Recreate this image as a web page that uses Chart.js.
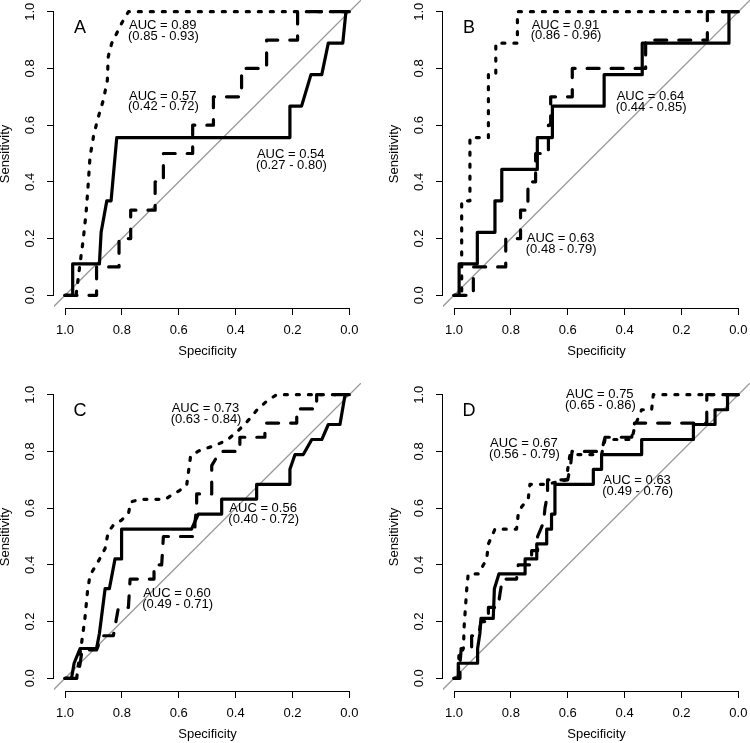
<!DOCTYPE html>
<html>
<head>
<meta charset="utf-8">
<script src="https://cdn.jsdelivr.net/npm/chart.js"></script>
<style>
html, body { margin: 0; padding: 0; background: #ffffff; width: 750px; height: 743px; overflow: hidden; }
.panel { position: absolute; width: 389px; height: 383px; }
canvas { display: block; }
</style>
</head>
<body>
<div class="panel" style="left:0px;top:0px"><canvas id="cA" width="389" height="383"></canvas></div>
<div class="panel" style="left:389px;top:0px"><canvas id="cB" width="389" height="383"></canvas></div>
<div class="panel" style="left:0px;top:383px"><canvas id="cC" width="389" height="383"></canvas></div>
<div class="panel" style="left:389px;top:383px"><canvas id="cD" width="389" height="383"></canvas></div>
<script>
// ---------- tick values & labels ----------
const tickValues = [0, 0.2, 0.4, 0.6, 0.8, 1.0];
const tickLabels = ['0.0', '0.2', '0.4', '0.6', '0.8', '1.0'];
// reference (chance) line: sensitivity = 1 - specificity
const refSpec = [1.1, -0.1];
const refSens = [-0.1, 1.1];

// ---------- Panel A ----------
const specA_solid = [1.0, 0.973, 0.973, 0.879, 0.873, 0.853, 0.838, 0.818, 0.209, 0.209, 0.168, 0.135, 0.097, 0.074, 0.023, 0.012, 0.0];
const sensA_solid = [0, 0, 0.111, 0.111, 0.222, 0.333, 0.333, 0.556, 0.556, 0.667, 0.667, 0.778, 0.778, 0.889, 0.889, 1.0, 1.0];
const specA_dashed = [1.0, 0.889, 0.889, 0.810, 0.810, 0.769, 0.769, 0.683, 0.683, 0.654, 0.654, 0.551, 0.551, 0.478, 0.478, 0.379, 0.379, 0.291, 0.291, 0.182, 0.182, 0.0];
const sensA_dashed = [0, 0, 0.1, 0.1, 0.2, 0.2, 0.3, 0.3, 0.4, 0.4, 0.5, 0.5, 0.6, 0.6, 0.7, 0.7, 0.8, 0.8, 0.9, 0.9, 1.0, 1.0];
const specA_dotted = [1.0, 0.961, 0.947, 0.936, 0.926, 0.919, 0.912, 0.900, 0.886, 0.865, 0.851, 0.848, 0.836, 0.818, 0.801, 0.777, 0.0];
const sensA_dotted = [0, 0, 0.113, 0.195, 0.289, 0.383, 0.489, 0.559, 0.618, 0.689, 0.759, 0.841, 0.888, 0.924, 0.959, 1.0, 1.0];
const aucA = ['0.89', '0.57', '0.54'];
const ciA = ['(0.85 - 0.93)', '(0.42 - 0.72)', '(0.27 - 0.80)'];

// ---------- Panel B ----------
const specB_solid = [1.0, 0.982, 0.982, 0.918, 0.918, 0.856, 0.856, 0.832, 0.832, 0.707, 0.707, 0.654, 0.654, 0.472, 0.472, 0.338, 0.338, 0.033, 0.033, 0.0];
const sensB_solid = [0, 0, 0.111, 0.111, 0.222, 0.222, 0.333, 0.333, 0.444, 0.444, 0.556, 0.556, 0.667, 0.667, 0.778, 0.778, 0.889, 0.889, 1.0, 1.0];
const specB_dashed = [1.0, 0.932, 0.932, 0.818, 0.818, 0.766, 0.766, 0.740, 0.740, 0.713, 0.713, 0.668, 0.668, 0.660, 0.660, 0.584, 0.584, 0.326, 0.326, 0.109, 0.109, 0.0];
const sensB_dashed = [0, 0, 0.1, 0.1, 0.2, 0.2, 0.3, 0.3, 0.4, 0.4, 0.5, 0.5, 0.6, 0.6, 0.7, 0.7, 0.8, 0.8, 0.9, 0.9, 1.0, 1.0];
const specB_dotted = [1.0, 0.973, 0.973, 0.944, 0.944, 0.879, 0.879, 0.853, 0.853, 0.777, 0.777, 0.0];
const sensB_dotted = [0, 0, 0.333, 0.333, 0.556, 0.556, 0.778, 0.778, 0.889, 0.889, 1.0, 1.0];
const aucB = ['0.91', '0.64', '0.63'];
const ciB = ['(0.86 - 0.96)', '(0.44 - 0.85)', '(0.48 - 0.79)'];

// ---------- Panel C ----------
const specC_solid = [1.0, 0.977, 0.968, 0.947, 0.889, 0.879, 0.859, 0.844, 0.824, 0.801, 0.801, 0.555, 0.531, 0.449, 0.449, 0.326, 0.326, 0.209, 0.209, 0.191, 0.162, 0.132, 0.097, 0.074, 0.033, 0.015, 0.0];
const sensC_solid = [0, 0, 0.053, 0.105, 0.105, 0.158, 0.316, 0.316, 0.421, 0.421, 0.526, 0.526, 0.579, 0.579, 0.632, 0.632, 0.684, 0.684, 0.737, 0.789, 0.789, 0.842, 0.842, 0.895, 0.895, 1.0, 1.0];
const specC_dashed = [1.0, 0.959, 0.947, 0.940, 0.889, 0.870, 0.830, 0.812, 0.777, 0.771, 0.687, 0.687, 0.660, 0.654, 0.566, 0.543, 0.543, 0.537, 0.537, 0.484, 0.484, 0.455, 0.385, 0.385, 0.297, 0.297, 0.185, 0.185, 0.115, 0.115, 0.0];
const sensC_dashed = [0, 0, 0.05, 0.1, 0.1, 0.15, 0.15, 0.25, 0.25, 0.35, 0.35, 0.4, 0.4, 0.5, 0.5, 0.5, 0.55, 0.6, 0.65, 0.65, 0.75, 0.8, 0.8, 0.85, 0.85, 0.9, 0.9, 0.95, 0.95, 1.0, 1.0];
const specC_dotted = [1.0, 0.959, 0.953, 0.941, 0.930, 0.921, 0.912, 0.894, 0.877, 0.859, 0.848, 0.830, 0.801, 0.777, 0.768, 0.736, 0.648, 0.625, 0.596, 0.572, 0.558, 0.525, 0.478, 0.431, 0.390, 0.355, 0.326, 0.291, 0.256, 0.0];
const sensC_dotted = [0, 0, 0.047, 0.129, 0.211, 0.305, 0.364, 0.393, 0.423, 0.458, 0.516, 0.540, 0.558, 0.581, 0.622, 0.631, 0.631, 0.646, 0.663, 0.681, 0.786, 0.804, 0.819, 0.839, 0.874, 0.910, 0.945, 0.977, 1.0, 1.0];
const aucC = ['0.73', '0.56', '0.60'];
const ciC = ['(0.63 - 0.84)', '(0.40 - 0.72)', '(0.49 - 0.71)'];

// ---------- Panel D ----------
const specD_solid = [1.0, 0.985, 0.985, 0.917, 0.917, 0.909, 0.905, 0.862, 0.858, 0.842, 0.750, 0.750, 0.709, 0.709, 0.674, 0.674, 0.657, 0.657, 0.645, 0.645, 0.510, 0.510, 0.481, 0.481, 0.340, 0.340, 0.158, 0.158, 0.082, 0.082, 0.038, 0.038, 0.0];
const sensD_solid = [0, 0, 0.053, 0.053, 0.105, 0.158, 0.211, 0.211, 0.316, 0.368, 0.368, 0.421, 0.421, 0.474, 0.474, 0.526, 0.526, 0.579, 0.579, 0.684, 0.684, 0.737, 0.737, 0.789, 0.789, 0.842, 0.842, 0.895, 0.895, 0.947, 0.947, 1.0, 1.0];
const specD_dashed = [1.0, 0.979, 0.979, 0.975, 0.938, 0.938, 0.914, 0.905, 0.879, 0.879, 0.845, 0.838, 0.830, 0.780, 0.774, 0.727, 0.727, 0.706, 0.706, 0.685, 0.680, 0.671, 0.671, 0.600, 0.590, 0.585, 0.481, 0.469, 0.375, 0.365, 0.111, 0.111, 0.0];
const sensD_dashed = [0, 0, 0.05, 0.1, 0.1, 0.15, 0.15, 0.2, 0.2, 0.25, 0.25, 0.3, 0.35, 0.35, 0.4, 0.4, 0.45, 0.45, 0.5, 0.55, 0.6, 0.65, 0.7, 0.7, 0.75, 0.8, 0.8, 0.85, 0.85, 0.9, 0.9, 1.0, 1.0];
const specD_dotted = [1.0, 0.985, 0.982, 0.967, 0.964, 0.955, 0.950, 0.914, 0.885, 0.879, 0.856, 0.780, 0.774, 0.762, 0.739, 0.733, 0.674, 0.604, 0.600, 0.592, 0.481, 0.469, 0.375, 0.363, 0.340, 0.305, 0.299, 0.0];
const sensD_dotted = [0, 0, 0.105, 0.105, 0.188, 0.317, 0.368, 0.368, 0.421, 0.474, 0.526, 0.526, 0.579, 0.605, 0.632, 0.684, 0.684, 0.700, 0.737, 0.789, 0.789, 0.842, 0.842, 0.892, 0.947, 0.947, 1.0, 1.0];
const aucD = ['0.75', '0.67', '0.63'];
const ciD = ['(0.65 - 0.86)', '(0.56 - 0.79)', '(0.49 - 0.76)'];

// ---------- layout (text anchors in data units, not data) ----------
const noteAnchorA = [[0.775, 0.951], [0.775, 0.703], [0.325, 0.496]];
const noteAnchorB = [[0.727, 0.953], [0.428, 0.700], [0.744, 0.201]];
const noteAnchorC = [[0.625, 0.951], [0.422, 0.598], [0.725, 0.298]];
const noteAnchorD = [[0.606, 1.000], [0.873, 0.827], [0.475, 0.698]];
const letterAnchor = [0.947, 0.944];

const FONT = "'Liberation Sans', Arial, Helvetica, sans-serif";
const DASH = { solid: [], dashed: [12, 12], dotted: [3, 9] };

function pts(s, v) { return s.map((x, i) => ({ x: x, y: v[i] })); }
function curve(s, v, dash) {
  return {
    data: pts(s, v), borderColor: '#000000', borderWidth: 3.2, borderDash: dash,
    borderCapStyle: 'round', borderJoinStyle: 'round', pointRadius: 0, pointHoverRadius: 0,
    fill: false, tension: 0, order: 1
  };
}

const rocText = {
  id: 'rocText',
  beforeDatasetsDraw(chart) {
    const { ctx, chartArea: ca, scales: { x, y } } = chart;
    const al = v => Math.round(v - 0.5) + 0.5;
    ctx.save();
    ctx.strokeStyle = '#000000';
    ctx.lineWidth = 1;
    ctx.lineCap = 'butt';
    const yb = Math.round(ca.bottom) + 0.5;
    ctx.beginPath();
    ctx.moveTo(al(x.getPixelForValue(tickValues[tickValues.length - 1])) - 0.5, yb);
    ctx.lineTo(al(x.getPixelForValue(tickValues[0])) + 0.5, yb);
    ctx.stroke();
    const xl = Math.round(ca.left) - 0.5;
    ctx.beginPath();
    ctx.moveTo(xl, al(y.getPixelForValue(tickValues[0])) + 0.5);
    ctx.lineTo(xl, al(y.getPixelForValue(tickValues[tickValues.length - 1])) - 0.5);
    ctx.stroke();
    ctx.restore();
  },
  afterDatasetsDraw(chart, args, o) {
    const { ctx, scales: { x, y } } = chart;
    ctx.save();
    ctx.fillStyle = '#000000';
    ctx.textBaseline = 'middle';
    ctx.textAlign = 'left';
    ctx.font = '13px ' + FONT;
    o.auc.forEach((a, i) => {
      const px = x.getPixelForValue(o.anchors[i][0]);
      const py = y.getPixelForValue(o.anchors[i][1]);
      ctx.fillText('AUC = ' + a, px, py);
      ctx.fillText(o.ci[i], px - 1, py + 10.7);
    });
    ctx.font = '18px ' + FONT;
    ctx.textAlign = 'center';
    ctx.fillText(o.letter, x.getPixelForValue(letterAnchor[0]), y.getPixelForValue(letterAnchor[1]));
    ctx.restore();
  }
};

function scaleCommon() {
  return {
    afterBuildTicks(s) { s.ticks = tickValues.map(v => ({ value: v })); },
    grid: { drawOnChartArea: false, drawTicks: true, tickLength: 7, color: '#000000', lineWidth: 1 },
    border: { display: false }
  };
}

function makePanel(id, letter, s, auc, ci, anchors) {
  const datasets = [
    curve(s.dottedS, s.dottedV, DASH.dotted),
    curve(s.dashedS, s.dashedV, DASH.dashed),
    curve(s.solidS, s.solidV, DASH.solid),
    { data: pts(refSpec, refSens), borderColor: '#9a9a9a', borderWidth: 1.3, pointRadius: 0,
      pointHoverRadius: 0, fill: false, tension: 0, order: 2 }
  ];
  const xs = Object.assign(scaleCommon(), {
    type: 'linear', position: 'bottom', reverse: true, min: -0.041, max: 1.0387,
    afterFit(sc) { sc.height = 55; sc.paddingLeft = 0; sc.paddingRight = 0; sc.paddingTop = 0; sc.paddingBottom = 0; },
    ticks: { autoSkip: false, minRotation: 0, maxRotation: 0, padding: 8, color: '#000000',
             font: { family: FONT, size: 13 }, callback: v => tickLabels[tickValues.indexOf(v)] },
    title: { display: true, text: 'Specificity', color: '#000000', font: { family: FONT, size: 13 },
             padding: { top: 0, bottom: 4 } }
  });
  const ys = Object.assign(scaleCommon(), {
    type: 'linear', position: 'left', min: -0.0448, max: 1.0413,
    afterFit(sc) { sc.width = 54; sc.paddingLeft = 0; sc.paddingRight = 0; sc.paddingTop = 0; sc.paddingBottom = 0; },
    ticks: { autoSkip: false, minRotation: 90, maxRotation: 90, crossAlign: 'center', padding: 7.6,
             color: '#000000', font: { family: FONT, size: 13 }, callback: v => tickLabels[tickValues.indexOf(v)] },
    title: { display: true, text: 'Sensitivity', color: '#000000', font: { family: FONT, size: 13 },
             padding: { top: -2, bottom: 0 } }
  });
  return new Chart(document.getElementById(id), {
    type: 'line',
    data: { datasets: datasets },
    options: {
      responsive: false, animation: false, events: [],
      layout: { padding: { left: 0, top: 0, right: 28, bottom: 20 } },
      scales: { x: xs, y: ys },
      plugins: { legend: { display: false }, tooltip: { enabled: false },
                 rocText: { letter: letter, auc: auc, ci: ci, anchors: anchors } }
    },
    plugins: [rocText]
  });
}

makePanel('cA', 'A', { solidS: specA_solid, solidV: sensA_solid, dashedS: specA_dashed, dashedV: sensA_dashed, dottedS: specA_dotted, dottedV: sensA_dotted }, aucA, ciA, noteAnchorA);
makePanel('cB', 'B', { solidS: specB_solid, solidV: sensB_solid, dashedS: specB_dashed, dashedV: sensB_dashed, dottedS: specB_dotted, dottedV: sensB_dotted }, aucB, ciB, noteAnchorB);
makePanel('cC', 'C', { solidS: specC_solid, solidV: sensC_solid, dashedS: specC_dashed, dashedV: sensC_dashed, dottedS: specC_dotted, dottedV: sensC_dotted }, aucC, ciC, noteAnchorC);
makePanel('cD', 'D', { solidS: specD_solid, solidV: sensD_solid, dashedS: specD_dashed, dashedV: sensD_dashed, dottedS: specD_dotted, dottedV: sensD_dotted }, aucD, ciD, noteAnchorD);
</script>
</body>
</html>
